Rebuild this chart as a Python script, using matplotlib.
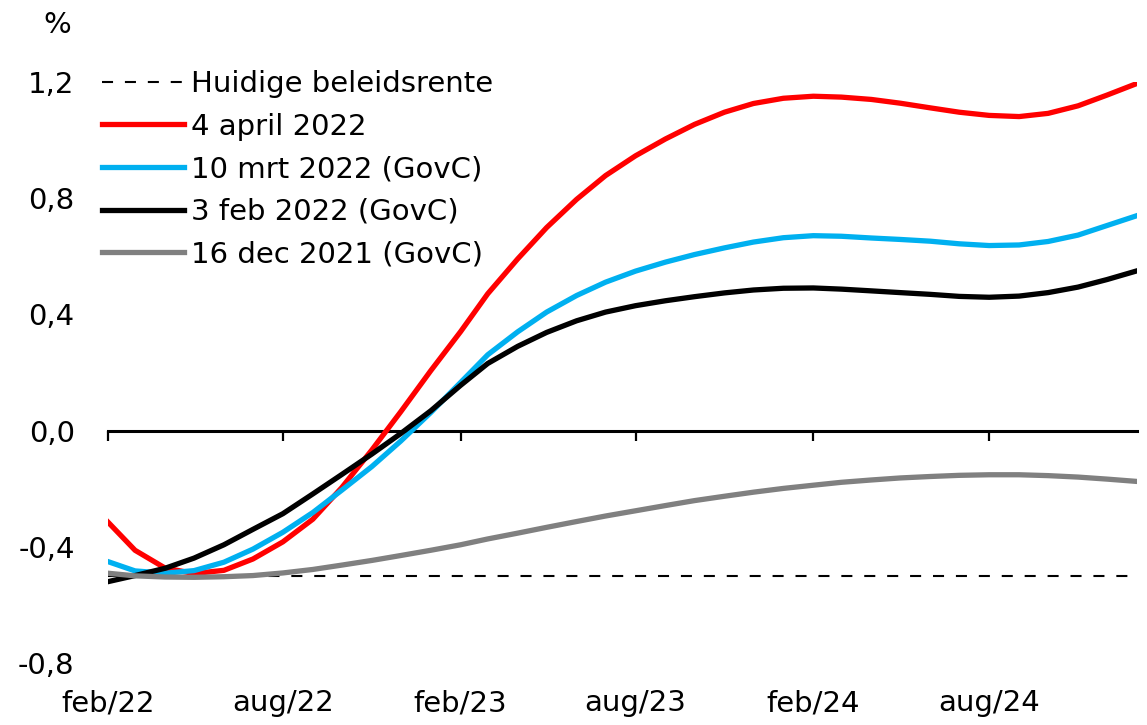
import numpy as np
import pandas as pd
import matplotlib
matplotlib.use("Agg")
import matplotlib.pyplot as plt

# monthly points, feb 2022 .. jan 2025
months = pd.date_range("2022-02-01", periods=36, freq="MS")

apr_2022 = [-0.315, -0.412, -0.473, -0.492, -0.481, -0.442, -0.383, -0.305, -0.196, -0.067,
            0.065, 0.206, 0.341, 0.471, 0.591, 0.699, 0.796, 0.878, 0.946, 1.004,
            1.054, 1.096, 1.126, 1.144, 1.151, 1.148, 1.14, 1.127, 1.111, 1.096,
            1.085, 1.081, 1.092, 1.118, 1.155, 1.195]
mrt_2022 = [-0.451, -0.483, -0.491, -0.482, -0.453, -0.408, -0.35, -0.282, -0.205, -0.124,
            -0.036, 0.062, 0.166, 0.261, 0.34, 0.408, 0.465, 0.511, 0.549, 0.58,
            0.606, 0.629, 0.649, 0.664, 0.671, 0.669, 0.663, 0.658, 0.652, 0.643,
            0.637, 0.639, 0.651, 0.673, 0.706, 0.74]
feb_2022 = [-0.52, -0.499, -0.474, -0.439, -0.393, -0.34, -0.286, -0.218, -0.151, -0.081,
            -0.01, 0.068, 0.156, 0.231, 0.29, 0.338, 0.378, 0.408, 0.43, 0.447,
            0.461, 0.474, 0.484, 0.49, 0.491, 0.487, 0.481, 0.475, 0.469, 0.462,
            0.459, 0.463, 0.475, 0.494, 0.52, 0.55]
dec_2021 = [-0.491, -0.50, -0.504, -0.505, -0.503, -0.499, -0.49, -0.478, -0.463, -0.447,
            -0.43, -0.412, -0.393, -0.373, -0.353, -0.333, -0.313, -0.294, -0.276, -0.258,
            -0.241, -0.226, -0.212, -0.199, -0.188, -0.178, -0.17, -0.163, -0.158, -0.154,
            -0.152, -0.152, -0.155, -0.16, -0.167, -0.175]
beleidsrente = -0.5

xtick_dates = pd.to_datetime(["2022-02-01", "2022-08-01", "2023-02-01",
                              "2023-08-01", "2024-02-01", "2024-08-01"])
xtick_labels = ["feb/22", "aug/22", "feb/23", "aug/23", "feb/24", "aug/24"]
ytick_vals = [-0.8, -0.4, 0.0, 0.4, 0.8, 1.2]
ytick_labels = ["-0,8", "-0,4", "0,0", "0,4", "0,8", "1,2"]

plt.rcParams["font.family"] = ["DejaVu Sans"]
fs = 21

fig = plt.figure(figsize=(11.47, 7.25), dpi=100)
ax = fig.add_axes([108 / 1147, 1 - 663 / 725, (1137 - 108) / 1147, (663 - 82) / 725])

ax.axhline(beleidsrente, color="black", lw=1.5, ls=(0, (5.3, 5.7)), label="Huidige beleidsrente")
ax.plot(months, apr_2022, color="#FF0000", lw=3.8, label="4 april 2022")
ax.plot(months, mrt_2022, color="#00B0F0", lw=3.8, label="10 mrt 2022 (GovC)")
ax.plot(months, feb_2022, color="black", lw=3.8, label="3 feb 2022 (GovC)")
ax.plot(months, dec_2021, color="#808080", lw=3.8, label="16 dec 2021 (GovC)")

ax.set_xlim(months[0], months[-1])
ax.set_ylim(-0.8, 1.2)
for s in ax.spines.values():
    s.set_visible(False)

ax.set_yticks(ytick_vals)
ax.set_yticklabels(ytick_labels, fontsize=fs)
ax.tick_params(axis="y", length=0, pad=24)

ax.set_xticks(xtick_dates)
ax.set_xticklabels(xtick_labels, fontsize=fs)
ax.tick_params(axis="x", length=0, pad=19)

# zero line with ticks hanging below it
zero_ax = ax.secondary_xaxis(0.4)
zero_ax.spines["bottom"].set_linewidth(2.2)
zero_ax.set_xticks(xtick_dates)
zero_ax.set_xticklabels([])
zero_ax.tick_params(axis="x", direction="out", length=7, width=1.6, color="black")

fig.text(57 / 1147, 1 - 25 / 725, "%", fontsize=fs, ha="center", va="center")

leg = fig.legend(loc="upper left", bbox_to_anchor=(102 / 1147, 1 - 70 / 725),
                 frameon=False, fontsize=fs, borderpad=0, borderaxespad=0,
                 handlelength=2.8, handletextpad=0.25, labelspacing=0.5)

fig.savefig("out.png", dpi=100)
